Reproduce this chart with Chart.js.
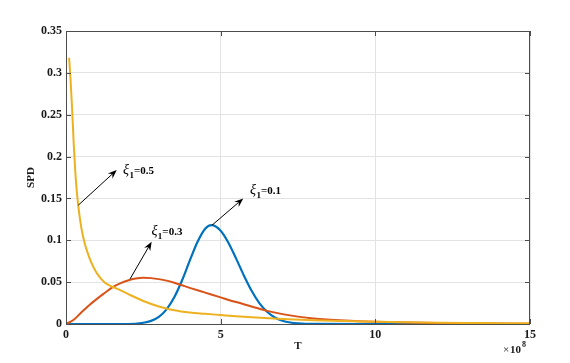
<!DOCTYPE html>
<html>
<head>
<meta charset="utf-8">
<script src="https://cdn.jsdelivr.net/npm/chart.js@4.4.0/dist/chart.umd.min.js"></script>
<style>
  html, body { margin: 0; padding: 0; background: #fff; }
</style>
</head>
<body>
<canvas id="myChart" width="570" height="363"></canvas>
<script>
// Datos (T en unidades de 10^8)
const xAzul = [0, 2, 2.5, 2.75, 3, 3.25, 3.5, 3.75, 4, 4.25, 4.5, 4.7, 5, 5.25, 5.5, 5.75, 6, 6.25, 6.5, 6.75, 7, 7.25, 7.5, 8, 10, 15];
const yAzul = [0, 0, 0.0015, 0.0037, 0.0085, 0.0175, 0.032, 0.052, 0.0756, 0.098, 0.1138, 0.118, 0.1114, 0.0971, 0.0781, 0.058, 0.0397, 0.025, 0.0146, 0.0078, 0.0039, 0.0018, 0.0008, 0.0001, 0, 0];

const xNaranja = [0, 0.25, 0.5, 0.75, 1, 1.25, 1.5, 1.75, 2, 2.25, 2.5, 2.75, 3, 3.25, 3.5, 3.75, 4, 4.5, 5, 5.5, 6, 6.5, 7, 7.5, 8, 9, 10, 11, 12, 13, 14, 15];
const yNaranja = [0, 0.005, 0.014, 0.0225, 0.030, 0.037, 0.0438, 0.0485, 0.052, 0.0543, 0.0553, 0.0548, 0.0536, 0.0518, 0.0492, 0.0462, 0.0432, 0.0375, 0.0318, 0.0262, 0.021, 0.0157, 0.0118, 0.0088, 0.0066, 0.0041, 0.0026, 0.0017, 0.0011, 0.0007, 0.0005, 0.0003];

const xAmarillo = [0.1, 0.15, 0.2, 0.25, 0.3, 0.35, 0.4, 0.5, 0.6, 0.7, 0.8, 0.9, 1, 1.25, 1.5, 1.75, 2, 2.5, 3, 3.5, 4, 4.5, 5, 5.5, 6, 7, 8, 9, 10, 11, 12, 13, 14, 15];
const yAmarillo = [0.318, 0.29, 0.255, 0.215, 0.182, 0.158, 0.140, 0.114, 0.097, 0.085, 0.075, 0.067, 0.0605, 0.0495, 0.0445, 0.0405, 0.036, 0.0275, 0.021, 0.0165, 0.0138, 0.0122, 0.0107, 0.0092, 0.008, 0.006, 0.0045, 0.0035, 0.0027, 0.002, 0.0015, 0.0012, 0.001, 0.0008];

const ticksX = [0, 5, 10, 15];
const ticksY = [0, 0.05, 0.1, 0.15, 0.2, 0.25, 0.3, 0.35];

// Etiquetas con flecha: [cola x, cola y, punta x, punta y, texto x, texto y, valor]
const etiquetas = [
    [0.40, 0.142, 1.64, 0.184, 1.84, 0.184, '0.5'],
    [2.07, 0.0538, 2.77, 0.0983, 2.76, 0.111, '0.3'],
    [4.72, 0.118, 5.73, 0.150, 5.95, 0.160, '0.1']
];

const fuente = '"Liberation Serif", "Times New Roman", serif';

const armarSerie = (xs, ys) => xs.map((x, i) => ({ x: x, y: ys[i] }));

// Marco con ticks hacia adentro, titulos y flechas
const extras = {
    id: 'extras',
    afterDraw(chart) {
        const ctx = chart.ctx;
        const a = chart.chartArea;
        const sx = chart.scales.x;
        const sy = chart.scales.y;
        ctx.save();

        ctx.strokeStyle = '#4d4d4d';
        ctx.lineWidth = 1;
        ctx.strokeRect(a.left + 0.5, a.top + 0.5, a.right - a.left - 1, a.bottom - a.top);
        ctx.beginPath();
        ticksX.forEach(v => {
            const p = Math.round(sx.getPixelForValue(v)) + 0.5;
            ctx.moveTo(p, a.bottom); ctx.lineTo(p, a.bottom - 5);
            ctx.moveTo(p, a.top); ctx.lineTo(p, a.top + 5);
        });
        ticksY.forEach(v => {
            const p = Math.round(sy.getPixelForValue(v)) + 0.5;
            ctx.moveTo(a.left, p); ctx.lineTo(a.left + 5, p);
            ctx.moveTo(a.right, p); ctx.lineTo(a.right - 5, p);
        });
        ctx.stroke();

        // titulos de ejes
        ctx.fillStyle = '#1a1a1a';
        ctx.font = 'bold 11px ' + fuente;
        ctx.textAlign = 'center';
        ctx.textBaseline = 'middle';
        ctx.fillText('T', (a.left + a.right) / 2, 346);
        ctx.save();
        ctx.translate(31, (a.top + a.bottom) / 2);
        ctx.rotate(-Math.PI / 2);
        ctx.fillText('SPD', 0, 0);
        ctx.restore();

        // x 10^8
        ctx.textAlign = 'left';
        ctx.textBaseline = 'alphabetic';
        ctx.font = '11px ' + fuente;
        ctx.fillText('\u00d7', 503, 353);
        ctx.font = 'bold 11px ' + fuente;
        ctx.fillText('10', 510, 353);
        ctx.font = 'bold 8px ' + fuente;
        ctx.fillText('8', 522, 347);

        // flechas
        ctx.strokeStyle = '#000';
        ctx.fillStyle = '#000';
        etiquetas.forEach(e => {
            const x1 = sx.getPixelForValue(e[0]), y1 = sy.getPixelForValue(e[1]);
            const x2 = sx.getPixelForValue(e[2]), y2 = sy.getPixelForValue(e[3]);
            const ang = Math.atan2(y2 - y1, x2 - x1);
            ctx.lineWidth = 1;
            ctx.beginPath();
            ctx.moveTo(x1, y1);
            ctx.lineTo(x2 - 6 * Math.cos(ang), y2 - 6 * Math.sin(ang));
            ctx.stroke();
            ctx.beginPath();
            ctx.moveTo(x2, y2);
            ctx.lineTo(x2 - 9 * Math.cos(ang) + 3.5 * Math.sin(ang), y2 - 9 * Math.sin(ang) - 3.5 * Math.cos(ang));
            ctx.lineTo(x2 - 6 * Math.cos(ang), y2 - 6 * Math.sin(ang));
            ctx.lineTo(x2 - 9 * Math.cos(ang) - 3.5 * Math.sin(ang), y2 - 9 * Math.sin(ang) + 3.5 * Math.cos(ang));
            ctx.closePath();
            ctx.fill();

            // texto xi_1 = valor
            let tx = sx.getPixelForValue(e[4]);
            const ty = sy.getPixelForValue(e[5]) + 4;
            ctx.font = 'italic 14px ' + fuente;
            ctx.fillText('\u03be', tx, ty);
            tx += ctx.measureText('\u03be').width + 0.5;
            ctx.font = 'bold 9px ' + fuente;
            ctx.fillText('1', tx, ty + 4);
            tx += ctx.measureText('1').width;
            ctx.font = 'bold 11px ' + fuente;
            ctx.fillText('=' + e[6], tx, ty);
        });
        ctx.restore();
    }
};

const fuenteTicks = { family: fuente, size: 12, weight: 'bold' };

new Chart(document.getElementById('myChart'), {
    type: 'line',
    data: {
        datasets: [
            { label: 'xi=0.5', data: armarSerie(xAmarillo, yAmarillo), borderColor: '#EDB120', borderWidth: 2 },
            { label: 'xi=0.3', data: armarSerie(xNaranja, yNaranja), borderColor: '#D95319', borderWidth: 2 },
            { label: 'xi=0.1', data: armarSerie(xAzul, yAzul), borderColor: '#0072BD', borderWidth: 2.2 }
        ]
    },
    options: {
        responsive: false,
        animation: false,
        parsing: false,
        elements: {
            point: { radius: 0 },
            line: { cubicInterpolationMode: 'monotone', fill: false }
        },
        layout: { padding: { left: 0, right: 40, top: 31, bottom: 0 } },
        plugins: {
            legend: { display: false },
            tooltip: { enabled: false }
        },
        scales: {
            x: {
                type: 'linear',
                min: 0, max: 15,
                afterBuildTicks: s => { s.ticks = ticksX.map(v => ({ value: v })); },
                afterFit: s => { s.height = 39; },
                grid: { color: '#e3e3e3', drawTicks: false },
                border: { display: false },
                ticks: { padding: 4, color: '#1a1a1a', font: fuenteTicks, callback: v => String(v) }
            },
            y: {
                type: 'linear',
                min: 0, max: 0.35,
                afterBuildTicks: s => { s.ticks = ticksY.map(v => ({ value: v })); },
                afterFit: s => { s.width = 66; },
                grid: { color: '#e3e3e3', drawTicks: false },
                border: { display: false },
                ticks: { padding: 4, color: '#1a1a1a', font: fuenteTicks, callback: v => String(+v.toFixed(2)) }
            }
        }
    },
    plugins: [extras]
});
</script>
</body>
</html>
